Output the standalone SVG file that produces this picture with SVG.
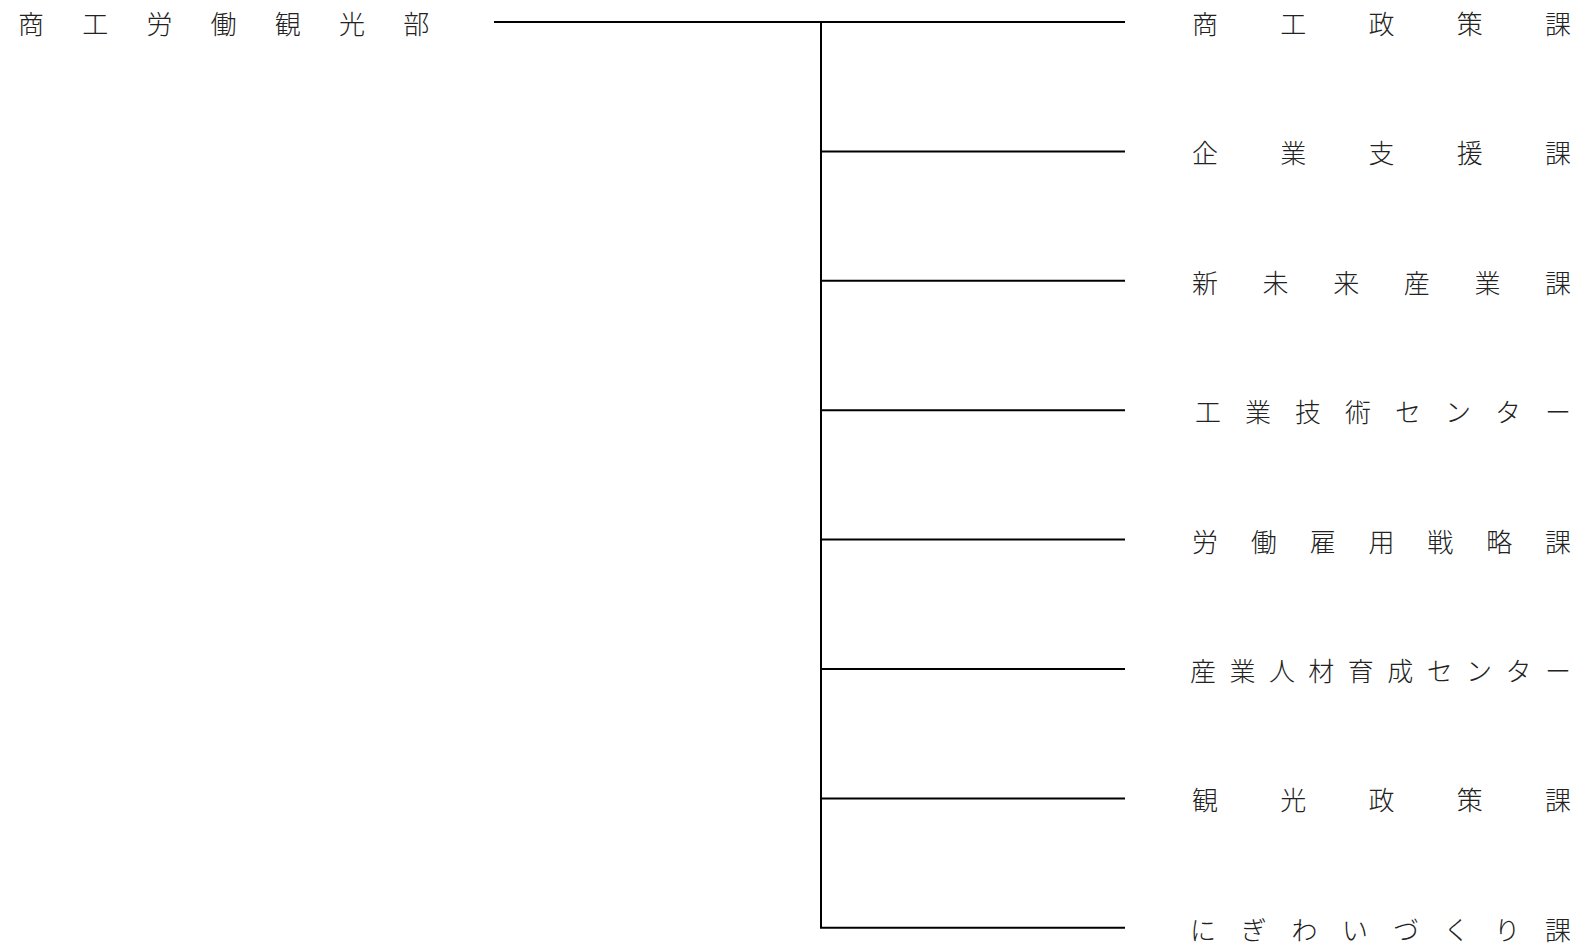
<svg xmlns="http://www.w3.org/2000/svg" width="1583" height="947" viewBox="0 0 1583 947">
<style>
.t{font-family:"Noto Sans CJK JP","Noto Sans CJK SC",sans-serif;font-size:26px;font-weight:300;fill:#222;text-anchor:middle}
.c{stroke:#000;stroke-width:2;fill:none}
</style>
<rect width="1583" height="947" fill="#fff"/>
<g id="connectors" class="c">
<line x1="494" y1="22" x2="1125" y2="22"/>
<line x1="821" y1="21" x2="821" y2="928"/>
<line x1="821" y1="151.4" x2="1125" y2="151.4"/>
<line x1="821" y1="280.8" x2="1125" y2="280.8"/>
<line x1="821" y1="410.2" x2="1125" y2="410.2"/>
<line x1="821" y1="539.6" x2="1125" y2="539.6"/>
<line x1="821" y1="669" x2="1125" y2="669"/>
<line x1="821" y1="798.4" x2="1125" y2="798.4"/>
<line x1="820" y1="927.8" x2="1125" y2="927.8"/>
</g>
<g id="n0"><text class="t" x="31 95.2 159.4 223.6 287.8 352 416.2" y="34">商工労働観光部</text></g>
<g id="n1"><text class="t" x="1205 1293.2 1381.5 1469.8 1558" y="34">商工政策課</text></g>
<g id="n2"><text class="t" x="1205 1293.2 1381.5 1469.8 1558" y="163.4">企業支援課</text></g>
<g id="n3"><text class="t" x="1205 1275.6 1346.2 1416.8 1487.4 1558" y="292.8">新未来産業課</text></g>
<g id="n4"><text class="t" x="1208 1258 1308 1358 1408 1458 1508 1558" y="422.2">工業技術センター</text></g>
<g id="n5"><text class="t" x="1205 1263.8 1322.7 1381.5 1440.3 1499.2 1558" y="551.6">労働雇用戦略課</text></g>
<g id="n6"><text class="t" x="1203 1242.4 1281.9 1321.3 1360.8 1400.2 1439.7 1479.1 1518.6 1558" y="681">産業人材育成センター</text></g>
<g id="n7"><text class="t" x="1205 1293.2 1381.5 1469.8 1558" y="810.4">観光政策課</text></g>
<g id="n8"><text class="t" x="1203 1253.7 1304.4 1355.1 1405.9 1456.6 1507.3 1558" y="940">にぎわいづくり課</text></g>
</svg>
